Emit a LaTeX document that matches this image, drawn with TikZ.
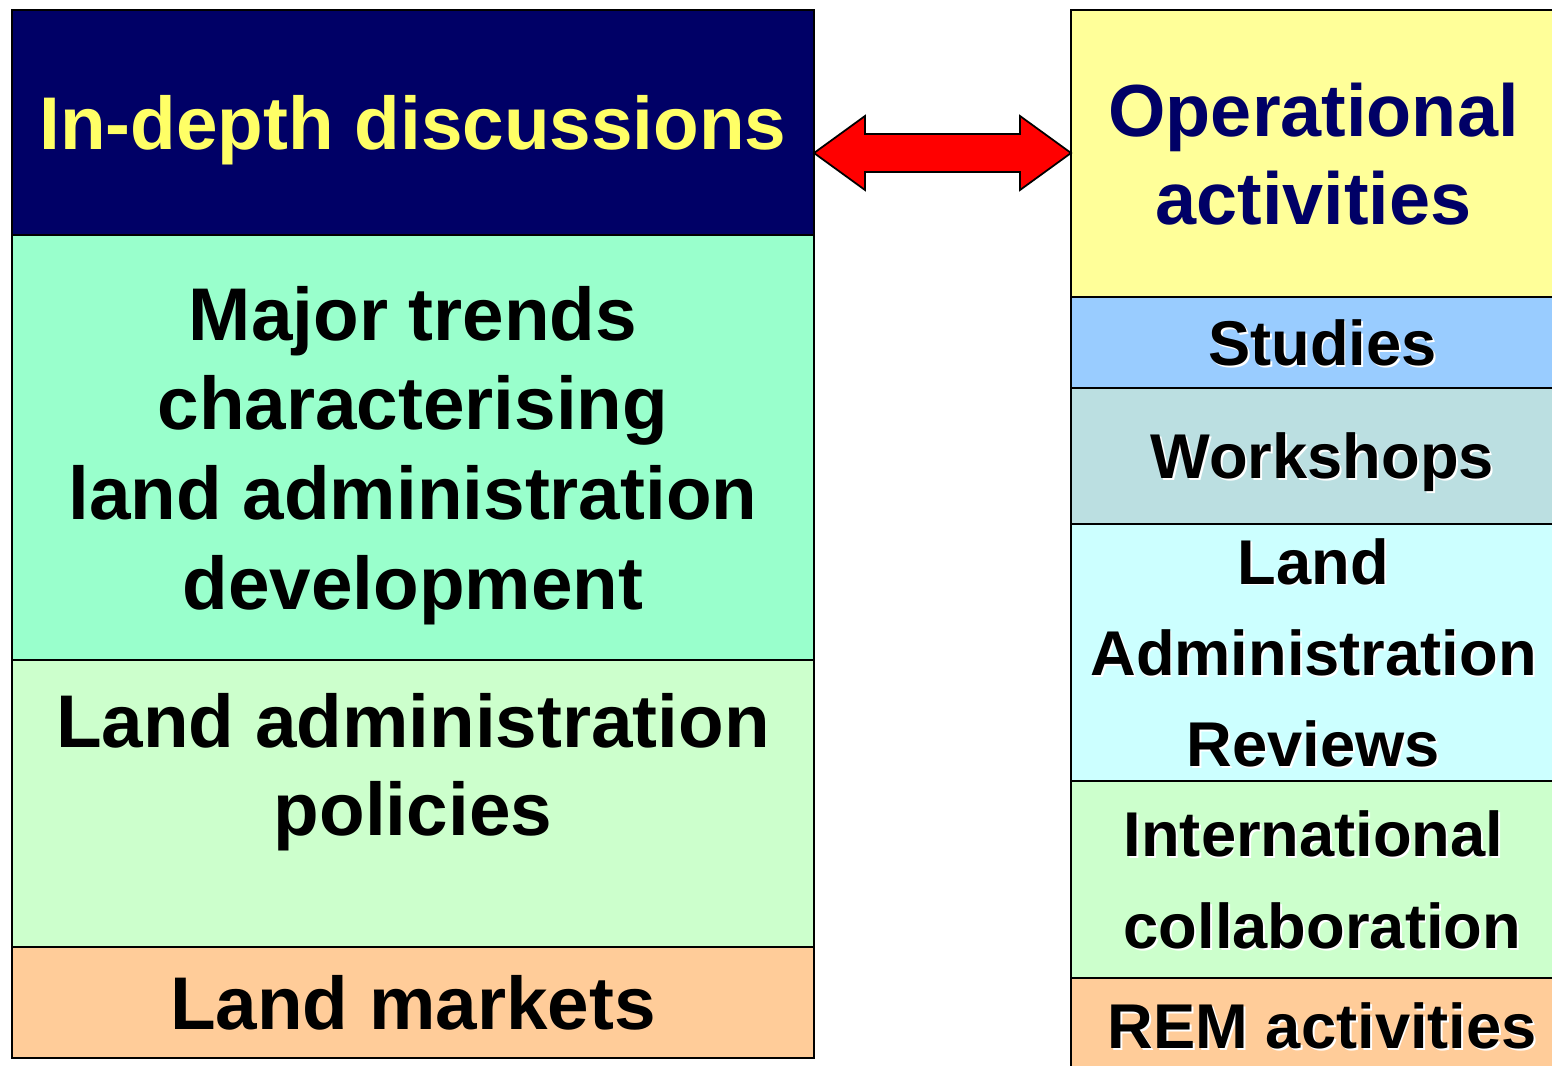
\documentclass[tikz,border=0pt]{standalone}
\usepackage{fontspec}
\setmainfont{Liberation Sans}
\usetikzlibrary{positioning,calc}
\definecolor{navy}{HTML}{000066}
\definecolor{lemon}{HTML}{FFFF66}
\definecolor{mint}{HTML}{99FFCC}
\definecolor{palegreen}{HTML}{CCFFCC}
\definecolor{peach}{HTML}{FFCC99}
\definecolor{paleyellow}{HTML}{FFFF99}
\definecolor{skyblue}{HTML}{99CCFF}
\definecolor{greyteal}{HTML}{BBDFE1}
\definecolor{palecyan}{HTML}{CCFFFF}
% white drop shadow behind the text of the right column
\newcommand{\shd}[1]{\makebox[0pt][l]{\hspace{1.1pt}\raisebox{-1.1pt}{\color{white}#1}}#1}
\begin{document}
\begin{tikzpicture}[
  cell/.style={draw,line width=1pt,outer sep=0pt,inner sep=0pt,align=center},
  lbox/.style={cell,minimum width=16.04cm,font=\bfseries\fontsize{42.5}{51}\selectfont},
  rbox/.style={cell,minimum width=9.7cm,text depth=0pt,font=\bfseries\fontsize{36}{52}\selectfont}]
\clip (0,0) rectangle (31.04,-21.3);
% left column
\node[lbox,fill=navy,text=lemon,text depth=0pt,minimum height=4.5cm,anchor=north west] (indepth) at (0.24,-0.2) {In-depth discussions};
\node[lbox,fill=mint,text depth=0pt,minimum height=8.5cm,below=0pt of indepth] (trends) {Major trends\\characterising\\land administration\\development};
\node[lbox,fill=palegreen,minimum height=5.74cm,below=0pt of trends] (policies) {};
\node[font=\bfseries\fontsize{42.5}{50}\selectfont,align=center,inner sep=0pt,below=0.66cm of policies.north] (poltext) {Land administration\\policies};
\node[lbox,fill=peach,minimum height=2.22cm,below=0pt of policies] (markets) {Land markets};
% right column
\node[rbox,fill=paleyellow,text=navy,minimum height=5.74cm,anchor=north west,font=\bfseries\fontsize{42}{50}\selectfont] (ops) at (21.42,-0.2) {Operational\\activities};
\node[rbox,fill=skyblue,minimum height=1.82cm,below=0pt of ops] (studies) {\shd{\kern0.28em Studies}};
\node[rbox,fill=greyteal,minimum height=2.72cm,below=0pt of studies] (workshops) {\shd{\kern0.28em Workshops}};
\node[rbox,fill=palecyan,minimum height=5.14cm,below=0pt of workshops] (reviews) {\shd{Land}\\\shd{Administration}\\\shd{Reviews}};
\node[rbox,fill=palegreen,minimum height=3.94cm,below=0pt of reviews] (intl) {\shd{International}\\\shd{\kern0.28em collaboration}};
\node[rbox,fill=peach,minimum height=1.9cm,below=0pt of intl] (rem) {\shd{\kern0.28em REM activities}};
% double arrow between the two headings
\coordinate (la) at (indepth.east |- 0,-3.06);
\coordinate (ra) at (ops.west |- 0,-3.06);
\draw[fill=red,line width=1pt,line join=miter] (la) -- ($(la)+(1.02,0.74)$) -- ($(la)+(1.02,0.38)$) -- ($(ra)+(-1.02,0.38)$) -- ($(ra)+(-1.02,0.74)$) -- (ra)
  -- ($(ra)+(-1.02,-0.74)$) -- ($(ra)+(-1.02,-0.38)$) -- ($(la)+(1.02,-0.38)$) -- ($(la)+(1.02,-0.74)$) -- cycle;
\end{tikzpicture}
\end{document}
